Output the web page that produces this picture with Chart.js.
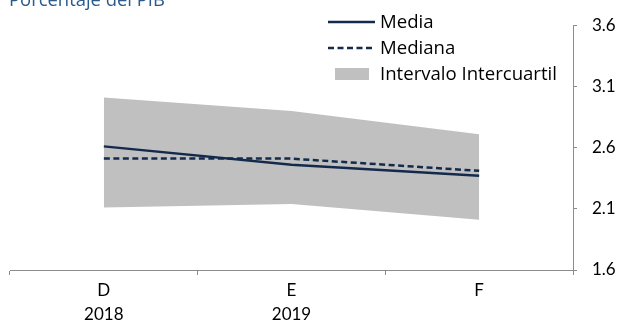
<!DOCTYPE html>
<html>
<head>
<meta charset="utf-8">
<script src="https://cdn.jsdelivr.net/npm/chart.js@4"></script>
<style>
  html, body { margin: 0; padding: 0; background: #ffffff; }
  #wrap { width: 620px; height: 325px; position: relative; }
</style>
</head>
<body>
<div id="wrap"><canvas id="c" width="620" height="325"></canvas></div>
<script>
// ---- data ----
const categories = [["D", "2018"], ["E", "2019"], ["F", ""]];
const media = [2.61, 2.46, 2.37];
const mediana = [2.51, 2.51, 2.41];
const bandLow = [2.11, 2.14, 2.01];
const bandHigh = [3.01, 2.90, 2.71];
const yTicks = [1.6, 2.1, 2.6, 3.1, 3.6];
const titleText = "Porcentaje del PIB";
const legendLabels = ["Media", "Mediana", "Intervalo Intercuartil"];

const NAVY = "#142a4c";
const GRAY = "#c0c0c0";
const AXIS = "#8c8c8c";
const FONT = "Lato, 'Open Sans', sans-serif";
const LFONT = "'Open Sans', Lato, sans-serif";

function fitFont(ctx, text, family, width) {
  ctx.font = "20px " + family;
  const w = ctx.measureText(text).width;
  return 20 * width / w;
}

const overlay = {
  id: "overlay",
  afterDraw(chart) {
    const ctx = chart.ctx;
    ctx.save();
    // title (cut off at top like the reference)
    const ts = fitFont(ctx, titleText, LFONT, 156);
    ctx.fillStyle = "#2b5a8c";
    ctx.font = ts.toFixed(2) + "px " + LFONT;
    ctx.textAlign = "left";
    ctx.textBaseline = "alphabetic";
    ctx.fillText(titleText, 9, 6);

    // legend
    const ls = fitFont(ctx, legendLabels[2], LFONT, 177);
    ctx.font = ls.toFixed(2) + "px " + LFONT;
    ctx.textBaseline = "middle";
    const tx = 380;
    const rows = [22, 48, 74];
    // Media
    ctx.strokeStyle = NAVY; ctx.lineWidth = 2.5; ctx.setLineDash([]);
    ctx.beginPath(); ctx.moveTo(328, rows[0]); ctx.lineTo(375, rows[0]); ctx.stroke();
    // Mediana
    ctx.setLineDash([6, 3.5]);
    ctx.beginPath(); ctx.moveTo(328, rows[1]); ctx.lineTo(375, rows[1]); ctx.stroke();
    ctx.setLineDash([]);
    // Interval
    ctx.fillStyle = GRAY;
    ctx.fillRect(335, rows[2] - 6, 34, 12);
    ctx.fillStyle = "#000";
    legendLabels.forEach((t, i) => ctx.fillText(t, tx, rows[i] + 1));
    ctx.restore();
  }
};

new Chart(document.getElementById("c"), {
  type: "line",
  data: {
    labels: categories,
    datasets: [
      { label: "low", data: bandLow, borderWidth: 0, pointRadius: 0, fill: false, borderColor: "rgba(0,0,0,0)", tension: 0, order: 3 },
      { label: legendLabels[2], data: bandHigh, borderWidth: 0, pointRadius: 0, fill: "-1", backgroundColor: GRAY, borderColor: "rgba(0,0,0,0)", tension: 0, order: 3 },
      { label: legendLabels[0], data: media, borderColor: NAVY, borderWidth: 2.5, pointRadius: 0, fill: false, tension: 0, order: 1 },
      { label: legendLabels[1], data: mediana, borderColor: NAVY, borderWidth: 2.5, borderDash: [6, 3.5], pointRadius: 0, fill: false, tension: 0, order: 2 }
    ]
  },
  options: {
    responsive: false,
    animation: false,
    events: [],
    layout: { padding: { left: 10, right: 0, top: 23, bottom: 0 } },
    plugins: { legend: { display: false }, title: { display: false }, tooltip: { enabled: false } },
    scales: {
      x: {
        type: "category",
        offset: true,
        grid: { offset: true, drawOnChartArea: false, drawTicks: true, tickLength: 5, color: AXIS },
        border: { color: AXIS, width: 1 },
        ticks: { color: "#000", font: { family: FONT, size: 17, lineHeight: 1.45 }, padding: 3, maxRotation: 0, autoSkip: false },
        afterFit(s) { s.height = 55; }
      },
      y: {
        position: "right",
        min: 1.6, max: 3.6,
        afterBuildTicks(s) { s.ticks = yTicks.map(v => ({ value: v })); },
        grid: { drawOnChartArea: false, drawTicks: true, tickLength: 4, color: AXIS },
        border: { color: AXIS, width: 1 },
        ticks: { color: "#000", font: { family: FONT, size: 17 }, padding: 15, callback: v => Number(v).toFixed(1) },
        afterFit(s) { s.width = 47; }
      }
    }
  },
  plugins: [overlay]
});
</script>
</body>
</html>
